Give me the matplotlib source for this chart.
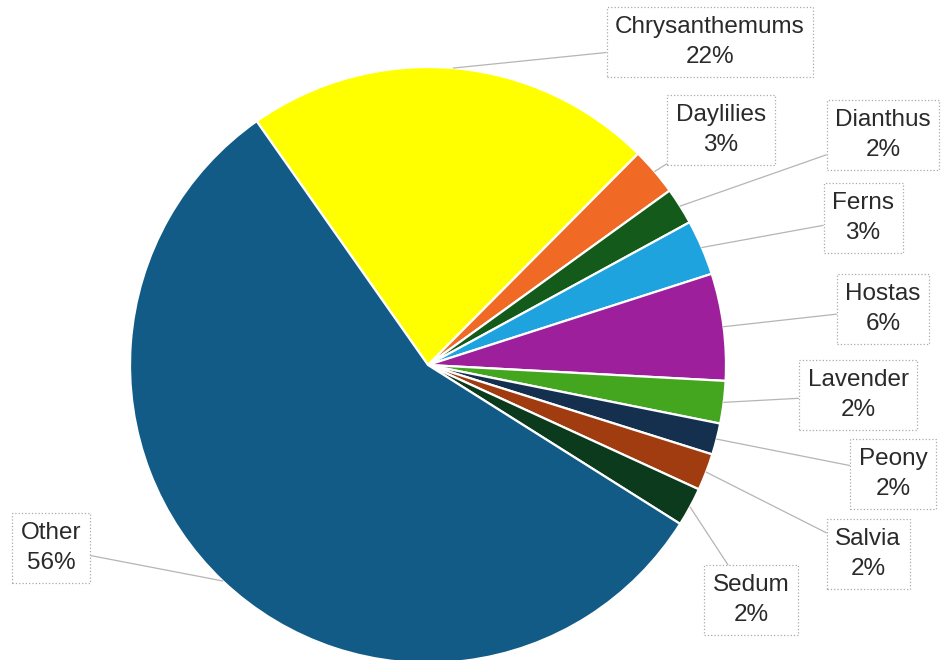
import matplotlib.pyplot as plt
import numpy as np

plt.rcParams['font.family'] = ['Liberation Sans', 'DejaVu Sans']

flowers = ['Chrysanthemums', 'Daylilies', 'Dianthus', 'Ferns', 'Hostas',
           'Lavender', 'Peony', 'Salvia', 'Sedum', 'Other']
shares = [22.2, 2.6, 2.0, 3.0, 5.8, 2.3, 1.7, 2.0, 2.1, 56.3]
colors = ['#ffff00', '#f06a26', '#135a1b', '#1ea3de', '#9d1f9c',
          '#44a51f', '#14304e', '#a13c10', '#0b3a1c', '#115b86']

# label box centres (data units, pie radius = 1)
label_pos = [(0.946, 1.084), (0.983, 0.789), (1.527, 0.772), (1.460, 0.493),
             (1.527, 0.188), (1.443, -0.101), (1.560, -0.366), (1.477, -0.634),
             (1.084, -0.789), (-1.265, -0.614)]

W, H = 943, 660
cx, cy, R = 428, 365, 298

fig = plt.figure(figsize=(W / 100, H / 100), dpi=100)
ax = fig.add_axes([0, 0, 1, 1])

wedges, _ = ax.pie(shares, colors=colors, startangle=125.1, counterclock=False,
                   wedgeprops=dict(edgecolor='white', linewidth=1.6))

for w, name, val, pos in zip(wedges, flowers, shares, label_pos):
    mid = np.deg2rad((w.theta1 + w.theta2) / 2)
    ax.annotate(f'{name}\n{val:.0f}%', xy=(np.cos(mid), np.sin(mid)), xytext=pos,
                ha='center', va='center', fontsize=17.5, color='#2a2a2a',
                linespacing=1.5,
                bbox=dict(boxstyle='square,pad=0.35', fc='white', ec='#aaaaaa',
                          ls=':', lw=0.9),
                arrowprops=dict(arrowstyle='-', color='#b5b5b5', lw=0.9,
                                shrinkA=0, shrinkB=0))

ax.set_xlim(-cx / R, (W - cx) / R)
ax.set_ylim(-(H - cy) / R, cy / R)
ax.set_aspect('equal')
ax.axis('off')

fig.savefig('out.png', dpi=100)
